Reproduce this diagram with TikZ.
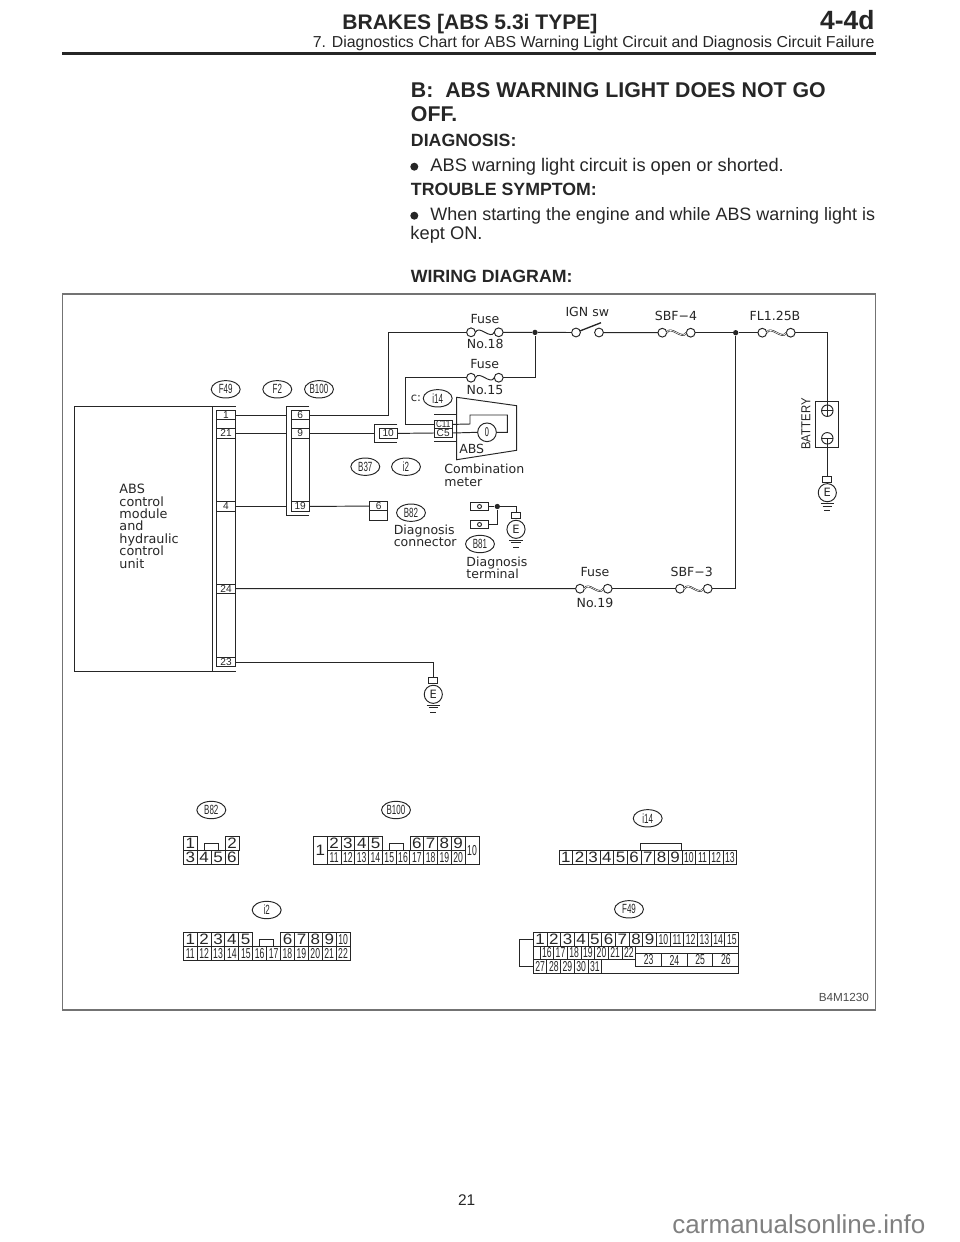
\documentclass[tikz,border=0pt]{standalone}
\usepackage{fontspec}
\usepackage{graphicx}
\usetikzlibrary{shapes.geometric}
\setmainfont{Liberation Sans}
\newfontfamily\diagfont{DejaVu Sans}

% narrow figures for the two digit pins
\newcommand{\thinnum}[1]{\scalebox{.6}[1]{#1}}
\newcommand{\pinnum}[1]{\ifnum#1<10 \scalebox{1.18}[1.05]{#1}\else\thinnum{#1}\fi}
% prefix, x, y, cell width, cell height, pin list
\newcommand{\pinrow}[6]{\foreach \pinno [count=\idx from 0] in {#6}
	\node[pin={#4}{#5}] (#1-\pinno) at ({#2+\idx*#4},#3) {\pinnum{\pinno}};}
% name, x, y of the circle
\newcommand{\earthsym}[3]{
	\node[earthcap] (#1-cap) at (#2,#3-13.5) {};
	\node[earth] (#1) at (#2,#3) {E};
	\draw ([xshift=-5pt,yshift=-1.5pt]#1.south) -- ++(10pt,0);
	\draw ([xshift=-3.6pt,yshift=-3.2pt]#1.south) -- ++(7.2pt,0);
	\draw ([xshift=-2.2pt,yshift=-6.6pt]#1.south) -- ++(4.4pt,0);}
% wavy link between the two ends of a fuse
\newcommand{\fusewave}[2]{\draw (#1.east) .. controls +(4,-8) and +(-4,8) .. (#2.west);}
\newcommand{\fuselink}[2]{\draw[double, double distance=.45pt, line width=.45pt] (#1.east) .. controls +(4,-8) and +(-4,8) .. (#2.west);}

\tikzset{
	pin/.style 2 args={draw, anchor=north west, inner sep=0, outer sep=0, font=\fontsize{10.8}{11}\selectfont,
		minimum width=#1*0.75pt, minimum height=#2*0.75pt},
	term/.style={draw, inner sep=0, outer sep=0, font=\fontsize{7.6}{8}\selectfont,
		minimum width=13.7pt, minimum height=6.9pt},
	tag/.style={draw, ellipse, inner sep=0, outer sep=0, minimum width=21.7pt, minimum height=13pt,
		font=\fontsize{10}{10}\selectfont},
	lbl/.style={inner sep=0, font=\diagfont\fontsize{9.4}{9.3}\selectfont},
	endcirc/.style={draw, circle, fill=white, inner sep=0, outer sep=0, minimum size=6.6pt},
	dot/.style={circle, fill=black!85, inner sep=0, minimum size=4pt},
	earth/.style={draw, circle, inner sep=0, outer sep=0, minimum size=13.6pt, font=\diagfont\fontsize{8.6}{9}\selectfont},
	earthcap/.style={draw, inner sep=0, outer sep=0, minimum width=6.8pt, minimum height=4.4pt},
	head/.style={inner sep=0, anchor=base west, font=\bfseries\fontsize{13.3}{14}\selectfont},
	body/.style={inner sep=0, anchor=base west, font=\fontsize{13.7}{14}\selectfont},
}

\begin{document}
\begin{tikzpicture}[x=0.75pt, y=-0.75pt, line width=.72pt, color=black!85]
	\useasboundingbox (0,0) rectangle (960,1242);

	% Page heading
	\node[inner sep=0, anchor=base east, font=\bfseries\fontsize{15.8}{16}\selectfont] (title) at (598,29.3) {BRAKES [ABS 5.3i TYPE]};
	\node[inner sep=0, anchor=base east, font=\bfseries\fontsize{19.8}{20}\selectfont] (chapter) at (875,29.3) {4-4d};
	\node[inner sep=0, anchor=base east, font=\fontsize{11.9}{12}\selectfont] (subtitle) at (875,47.7) {7. Diagnostics Chart for ABS Warning Light Circuit and Diagnosis Circuit Failure};
	\draw[line width=1.9pt] (62,53.5) -- (876,53.5);

	% Text above the diagram
	\node[head, font=\bfseries\fontsize{16}{16}\selectfont] (hb) at (410.5,97.7) {B:\ \ ABS WARNING LIGHT DOES NOT GO};
	\node[head, font=\bfseries\fontsize{16}{16}\selectfont] (hoff) at (410.5,121) {OFF.};
	\node[head] (hdiag) at (410.5,146.7) {DIAGNOSIS:};
	\node[dot, minimum size=6pt] (b1) at (414.3,166.7) {};
	\node[body] (t1) at (430,171) {ABS warning light circuit is open or shorted.};
	\node[head] (htrouble) at (410.5,195) {TROUBLE SYMPTOM:};
	\node[dot, minimum size=6pt] (b2) at (414.3,215.7) {};
	\node[body, font=\fontsize{13.45}{14}\selectfont] (t2) at (430,220) {When starting the engine and while ABS warning light is};
	\node[body] (t3) at (410,239) {kept ON.};
	\node[head] (hwiring) at (410.5,282.7) {WIRING DIAGRAM:};

	% Frame of the diagram
	\draw[black!55, line width=.9pt] (62.5,294) rectangle (875.5,1010);
	\node[inner sep=0, anchor=base east, black!70, font=\fontsize{8.8}{9}\selectfont] (code) at (869.5,1001.7) {B4M1230};

	% Control module
	\draw (235.5,406) -- (74.7,406) -- (74.7,671.7) -- (235.5,671.7);
	\draw (212.5,406) -- (212.5,671.7);
	\node[lbl, anchor=west, align=left, font=\diagfont\fontsize{9.6}{9.3}\selectfont] (abs) at (119,526.3) {ABS\\control\\module\\and\\hydraulic\\control\\unit};

	% Connector F49
	\node[term] (f49-1) at (226,415.2) {1};
	\node[term] (f49-21) at (226,433.4) {21};
	\node[term] (f49-4) at (226,506.4) {4};
	\node[term] (f49-24) at (226,588.6) {24};
	\node[term] (f49-23) at (226,662) {23};
	\draw (f49-1.north west) -- (f49-23.south west);
	\draw (f49-1.north east) -- (f49-23.south east);

	% Connector F2 / B100
	\draw (309.3,406) -- (286.7,406) -- (286.7,515.3) -- (309.3,515.3);
	\node[term] (f2-6) at (300.2,415.2) {6};
	\node[term] (f2-9) at (300.2,433.4) {9};
	\node[term] (f2-19) at (300.2,506.4) {19};
	\draw (f2-6.north west) -- (f2-19.south west);
	\draw (f2-6.north east) -- (f2-19.south east);
	\coordinate (f2a) at (286.7,415.2);
	\coordinate (f2b) at (286.7,433.4);
	\coordinate (f2c) at (286.7,506.4);

	% Connector B37 / i2
	\draw (397.3,424.3) -- (374,424.3) -- (374,442) -- (397.3,442);
	\node[term] (b37-10) at (388.2,433.4) {10};
	\coordinate (b37a) at (374,433.4);

	% Diagnosis connector
	\node[term, minimum height=6.6pt] (b82-6) at (378.7,506.1) {6};
	\node[term, minimum height=7.2pt] (b82-x) at (378.7,515.5) {};

	% Connector C of the meter
	\draw (434,414.3) -- (456.7,414.3);
	\draw (434,441.7) -- (456.7,441.7);
	\node[term, minimum height=6.4pt] (c11) at (443.2,424.4) {\scalebox{.8}[1]{C11}};
	\node[term, minimum height=6.4pt] (c5) at (443.2,433) {C5};

	% Combination meter
	\draw (456.7,397.3) -- (516.7,405.7) -- (516.7,450.3) -- (456.7,459.7) -- cycle;
	\node[draw, circle, inner sep=0, outer sep=0, minimum size=14pt, font=\diagfont\fontsize{9}{9}\selectfont] (lamp) at (487,432.3) {\thinnum{0}};
	\coordinate (m1) at (470,424);
	\coordinate (m2) at (470,415);
	\coordinate (m3) at (507.3,415);
	\coordinate (m4) at (507.3,432.3);
	\draw (c11.east) -- (m1) -- (m2) -- (m3) -- (m4) -- (lamp.east);
	\draw (c5.east) -- (lamp.west);
	\node[lbl] (labs) at (471.7,449) {ABS};
	\node[lbl, anchor=west, align=left] (lmeter) at (444,475.5) {Combination\\meter};

	% Fuses and switch
	\node[endcirc] (f18a) at (471,332.3) {};
	\node[endcirc] (f18b) at (498.7,332.3) {};
	\node[endcirc] (f15a) at (471,377.7) {};
	\node[endcirc] (f15b) at (498.7,377.7) {};
	\node[endcirc] (swa) at (576,332.5) {};
	\node[endcirc] (swb) at (599,332.5) {};
	\coordinate (swt) at (601,322.7);
	\node[endcirc] (sbf4a) at (662.3,332.7) {};
	\node[endcirc] (sbf4b) at (690.7,332.7) {};
	\node[endcirc] (fla) at (762.3,332.7) {};
	\node[endcirc] (flb) at (790.7,332.7) {};
	\node[endcirc] (f19a) at (580,588.7) {};
	\node[endcirc] (f19b) at (607.7,588.7) {};
	\node[endcirc] (sbf3a) at (680,588.7) {};
	\node[endcirc] (sbf3b) at (707.7,588.7) {};
	\node[dot] (j1) at (535,332.4) {};
	\node[dot] (j2) at (735.7,332.7) {};
	\fusewave{f18a}{f18b}
	\fusewave{f15a}{f15b}
	\fuselink{sbf4a}{sbf4b}
	\fuselink{fla}{flb}
	\fuselink{f19a}{f19b}
	\fuselink{sbf3a}{sbf3b}
	\draw[line width=1pt] (swa) -- (swt);

	% Battery
	\node[draw, inner sep=0, minimum width=17.2pt, minimum height=34pt] (batt) at (827.2,424.5) {};
	\node[draw, circle, inner sep=0, outer sep=0, minimum size=8.6pt] (bplus) at (827.3,410.7) {};
	\node[draw, circle, inner sep=0, outer sep=0, minimum size=8.6pt] (bminus) at (827.3,438.3) {};
	\draw (bplus.west) -- (bplus.east);
	\draw (bminus.west) -- (bminus.east);
	\node[inner sep=0, rotate=90, font=\fontsize{9.75}{10}\selectfont] (lbatt) at (806,424) {\scalebox{.87}[1]{BATTERY}};

	% Diagnosis terminal
	\node[draw, inner sep=0, minimum width=14pt, minimum height=6.6pt] (b81a) at (479.5,506.5) {};
	\node[draw, inner sep=0, minimum width=14pt, minimum height=6.6pt] (b81b) at (479.5,524.5) {};
	\node[draw, circle, inner sep=0, minimum size=3pt] (b81c) at (479.5,506.5) {};
	\node[draw, circle, inner sep=0, minimum size=3pt] (b81d) at (479.5,524.5) {};
	\node[dot] (j3) at (497.3,506.5) {};

	% Earth points
	\earthsym{e1}{827.3}{492.7}
	\earthsym{e2}{516}{529.3}
	\earthsym{e3}{433.3}{694.3}

	% Wires
	\coordinate (c18) at (388.3,332.3);
	\coordinate (c15) at (405.7,424.4);
	\coordinate (c23) at (433.3,662);
	\coordinate (c3) at (516,506.5);
	\draw (f49-1.east) -- (f2a);
	\draw (f49-21.east) -- (f2b);
	\draw (f49-4.east) -- (f2c);
	\draw (f2-6.east) -| (c18) -- (f18a);
	\draw (f2-9.east) -- (b37a);
	\draw (b37-10.east) -- (c5.west);
	\draw (f2-19.east) -- (b82-6.west);
	\draw (f18b) -- (j1) -- (swa);
	\draw (swb) -- (sbf4a);
	\draw (sbf4b) -- (j2) -- (fla);
	\draw (flb) -| (bplus.south);
	\draw (bminus.center) -- (e1-cap.north);
	\draw (f15a) -| (c15) -- (c11.west);
	\draw (f15b) -| (j1);
	\draw (f49-24.east) -- (f19a);
	\draw (f19b) -- (sbf3a);
	\draw (sbf3b) -| (j2);
	\draw (f49-23.east) -- (c23) -- (e3-cap.north);
	\draw (b81a.east) -- (j3) -- (c3) -- (e2-cap.north);
	\draw (b81b.east) -| (j3);

	% Wire labels
	\node[lbl] (l18t) at (485,319) {Fuse};
	\node[lbl] (l18n) at (485.3,344.3) {No.18};
	\node[lbl] (l15t) at (484.7,364.3) {Fuse};
	\node[lbl] (l15n) at (485,390.3) {No.15};
	\node[lbl] (lign) at (587.3,312.3) {IGN sw};
	\node[lbl] (lsbf4) at (676,316) {SBF−4};
	\node[lbl] (lfl) at (775,316) {FL1.25B};
	\node[lbl] (l19t) at (595,571.7) {Fuse};
	\node[lbl] (l19n) at (595,603.3) {No.19};
	\node[lbl] (lsbf3) at (691.7,571.7) {SBF−3};
	\node[lbl, anchor=west, align=left] (lconn) at (393.3,536) {Diagnosis\\connector};
	\node[lbl, anchor=west, align=left] (lterm) at (466,567.8) {Diagnosis\\terminal};

	% Connector tags on the diagram
	\node[tag] (t-f49) at (225.7,389.3) {\thinnum{F49}};
	\node[tag] (t-f2) at (277.3,389.3) {\thinnum{F2}};
	\node[tag] (t-b100) at (319,389.3) {\thinnum{B100}};
	\node[inner sep=0, font=\diagfont\fontsize{8.6}{9}\selectfont] (t-c) at (416,398.3) {c:};
	\node[tag] (t-i14) at (437.7,398.3) {\thinnum{i14}};
	\node[tag] (t-b37) at (365.3,466.7) {\thinnum{B37}};
	\node[tag] (t-i2) at (406,466.7) {\thinnum{i2}};
	\node[tag] (t-b82) at (411,512.7) {\thinnum{B82}};
	\node[tag] (t-b81) at (480,544) {\thinnum{B81}};

	% Connector faces: B82
	\node[tag] (v-b82) at (211.3,810) {\thinnum{B82}};
	\pinrow{p82}{183.3}{836.7}{14}{14}{1}
	\pinrow{p82}{225}{836.7}{14}{14}{2}
	\pinrow{p82}{183.3}{850.7}{13.9}{13.7}{3,4,5,6}
	\draw (204.3,850.7) -- (204.3,843.3) -- (218.3,843.3) -- (218.3,850.7);

	% B100
	\node[tag] (v-b100) at (396,810) {\thinnum{B100}};
	\pinrow{p100}{313.3}{836.7}{14}{27.6}{1}
	\pinrow{p100}{327.3}{836.7}{13.77}{14}{2,3,4,5}
	\pinrow{p100}{410}{836.7}{13.77}{14}{6,7,8,9}
	\pinrow{p100}{465}{836.7}{14}{27.6}{10}
	\pinrow{p100}{327.3}{850.7}{13.77}{13.7}{11,12,13,14,15,16,17,18,19,20}
	\draw (389.3,850.7) -- (389.3,843.3) -- (403.3,843.3) -- (403.3,850.7);

	% i14
	\node[tag] (v-i14) at (647.7,818.3) {\thinnum{i14}};
	\pinrow{p14}{559}{850.7}{13.67}{13.7}{1,2,3,4,5,6,7,8,9,10,11,12,13}
	\draw (640.7,850.7) -- (640.7,843.3) -- (681.7,843.3) -- (681.7,850.7);

	% i2
	\node[tag] (v-i2) at (266.7,910) {\thinnum{i2}};
	\pinrow{p2}{183.3}{932.7}{13.87}{14}{1,2,3,4,5}
	\pinrow{p2}{280.7}{932.7}{13.87}{14}{6,7,8,9}
	\pinrow{p2}{336.2}{932.7}{13.87}{14}{10}
	\pinrow{p2}{183.3}{946.7}{13.89}{14}{11,12,13,14,15,16,17,18,19,20,21,22}
	\draw (259.3,946.7) -- (259.3,939.3) -- (273.3,939.3) -- (273.3,946.7);

	% F49
	\node[tag] (v-f49) at (629,909.3) {\thinnum{F49}};
	\pinrow{p49}{533.3}{932.7}{13.69}{13.3}{1,2,3,4,5,6,7,8,9,10,11,12,13,14,15}
	\pinrow{p49}{540}{946}{13.67}{13.3}{16,17,18,19,20,21,22}
	\pinrow{p49}{635.7}{953.3}{25.75}{13.4}{23,24,25,26}
	\pinrow{p49}{533.3}{959.3}{13.67}{14}{27,28,29,30,31}
	\draw (533.3,946) -- (533.3,959.3) -- (540,959.3);
	\draw (635.7,946) -- (738.7,946) -- (738.7,973.3) -- (601.7,973.3);
	\draw (533.3,939.3) -- (519.3,939.3) -- (519.3,966.7) -- (533.3,966.7);

	% Page number and source
	\node[inner sep=0, font=\fontsize{11.6}{12}\selectfont] (pageno) at (466.7,1200) {21};
	\node[inner sep=0, anchor=base west, black!50, font=\fontsize{19.5}{20}\selectfont] (source) at (672,1233.3) {carmanualsonline.info};
\end{tikzpicture}
\end{document}
